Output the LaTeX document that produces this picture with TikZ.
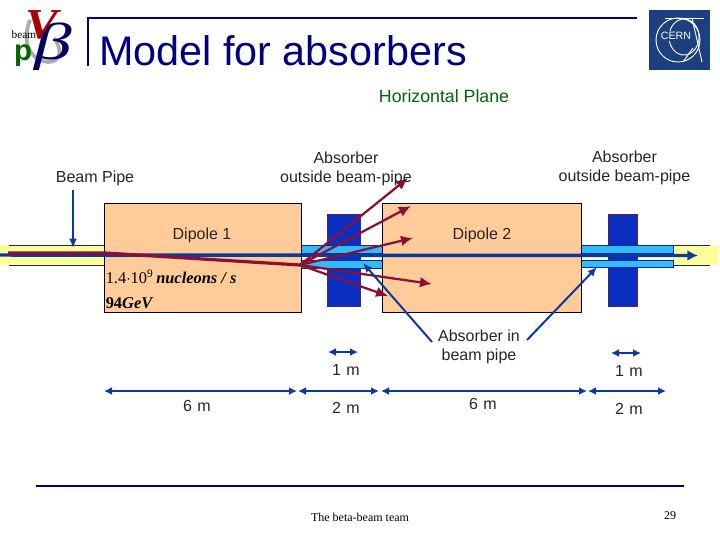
\documentclass[tikz,border=0pt]{standalone}
\usepackage{fontspec}
\setmainfont{Liberation Sans}
\newfontfamily\timesf{Liberation Serif}
\usetikzlibrary{arrows.meta}
\definecolor{navy}{HTML}{0B3A9E}
\definecolor{titlenavy}{HTML}{00007F}
\definecolor{dipole}{HTML}{FFCC99}
\definecolor{absb}{HTML}{0A2FC0}
\definecolor{pipeb}{HTML}{33BBFF}
\definecolor{beamy}{HTML}{FFFF99}
\definecolor{ray}{HTML}{8B1038}
\definecolor{greent}{HTML}{006600}
\definecolor{cernb}{HTML}{1B3F7F}
\tikzset{
  dipolebox/.style={draw=black,line width=0.75pt,fill=dipole,inner sep=0pt,anchor=north west},
  absorberbox/.style={draw=ray!70!absb,line width=0.75pt,fill=absb,inner sep=0pt,anchor=north west},
  pipebox/.style={draw=navy!80!black,line width=0.6pt,fill=pipeb,inner sep=0pt,anchor=north west},
  yellowbox/.style={fill=beamy,inner sep=0pt,anchor=north west},
  lbl/.style={font=\fontsize{12}{14.2}\selectfont,text=black!85,align=center,inner sep=0pt},
  rayline/.style={draw=ray,line width=1.7pt,-{Latex[length=9pt,width=8pt]}},
  callout/.style={draw=navy,line width=1.5pt,-{Latex[length=7pt,width=6pt]}},
  dimline/.style={draw=navy,line width=1.5pt,{Latex[length=6pt,width=6pt]}-{Latex[length=6pt,width=6pt]}},
  edgeline/.style={draw=cernb!70!black,line width=0.75pt},
}
\begin{document}
\begin{tikzpicture}[x=0.75pt,y=-0.75pt]
\useasboundingbox (0,0) rectangle (720,540);
% beta-beam logo
\draw[gray!65,line width=2.8pt] (30,20) .. controls (22,40) and (28,60) .. (48,62) .. controls (62,62) and (62,48) .. (54,38);
\node[inner sep=0pt,text=titlenavy!80!black] (logobeta) at (53,47) {\scalebox{1.45}[1]{\timesf\itshape\fontsize{39}{41}\selectfont β}};
\node[inner sep=0pt,text=red!65!black] (logov) at (42,25) {\scalebox{1.15}[1]{\timesf\itshape\bfseries\fontsize{32}{35}\selectfont V}};
\node[inner sep=0pt,text=black] (logobeam) at (24,35) {\timesf\fontsize{8.5}{10}\selectfont beam};
\node[inner sep=0pt,text=greent] (logop) at (23,56) {\fontsize{22}{24}\selectfont\bfseries p};
% title frame
\coordinate (ftop) at (88,66);
\coordinate (fcorner) at (88,18);
\coordinate (fend) at (637,18);
\draw[titlenavy,line width=1.6pt] (ftop) -- (fcorner) -- (fend);
\node[anchor=base west,inner sep=0pt,text=titlenavy] (title) at (99,65) {\fontsize{31}{36}\selectfont Model for absorbers};
% CERN logo
\node[draw=none,fill=cernb,minimum width=45.5pt,minimum height=45pt,inner sep=0pt,anchor=north west] (cern) at (649,10) {};
\begin{scope}[draw=white,line width=0.7pt]
\draw (678,40) circle (22);
\draw (684,37) ellipse (15 and 18);
\draw (665,18) -- (704,18);
\draw (692,18) -- (702,62);
\draw (683,62) -- (693,48);
\end{scope}
\node[inner sep=1pt,fill=cernb,text=white] (cerntext) at (676,36) {\fontsize{8}{9}\selectfont CERN};
% heading
\node[inner sep=0pt,text=greent] (plane) at (444,96) {\fontsize{13.3}{16}\selectfont Horizontal Plane};
% beam-line background
\node[yellowbox,minimum width=78pt,minimum height=15pt] (yl) at (0,245) {};
\node[yellowbox,minimum width=33.75pt,minimum height=15pt] (yr) at (673,245) {};
\coordinate (ylt) at (9,245); \coordinate (ylb) at (9,265);
\coordinate (ylte) at (104,245); \coordinate (ylbe) at (104,265);
\coordinate (yrt) at (710,245); \coordinate (yrb) at (710,265);
\coordinate (yrte) at (673,245); \coordinate (yrbe) at (673,265);
\draw[edgeline] (ylt) -- (ylte);
\draw[edgeline] (ylb) -- (ylbe);
\draw[edgeline] (yrte) -- (yrt);
\draw[edgeline] (yrbe) -- (yrb);
% absorbers
\node[absorberbox,minimum width=24.75pt,minimum height=69pt] (abs1) at (327,214) {};
\node[absorberbox,minimum width=21.75pt,minimum height=69pt] (abs2) at (608,214) {};
% in-pipe absorbers
\node[pipebox,minimum width=60.75pt,minimum height=6pt] (p1u) at (301,245) {};
\node[pipebox,minimum width=60.75pt,minimum height=6pt] (p1l) at (301,259.5) {};
\node[pipebox,minimum width=69pt,minimum height=6pt] (p2u) at (581,245) {};
\node[pipebox,minimum width=69pt,minimum height=5.5pt] (p2l) at (581,259.5) {};
% dipoles
\node[dipolebox,minimum width=147.75pt,minimum height=81.75pt] (d1) at (104,203) {};
\node[dipolebox,minimum width=149.25pt,minimum height=81.75pt] (d2) at (382,203) {};
\node[lbl] (d1t) at (202,235) {Dipole 1};
\node[lbl] (d2t) at (482,235) {Dipole 2};
\node[anchor=base west,inner sep=0pt] (rate) at (105.5,283) {\timesf\fontsize{12.3}{14}\selectfont 1.4$\cdot$10\textsuperscript{9}\,\itshape\bfseries nucleons / s};
\node[anchor=base west,inner sep=0pt] (energy) at (105.5,308) {\timesf\fontsize{12.3}{14}\selectfont\bfseries 94\itshape GeV};
% central beam
\coordinate (bs) at (0,255);
\coordinate (be) at (698,255.5);
\draw[navy,line width=2.6pt,-{Latex[length=8pt,width=8pt]}] (bs) -- (be);
% ion beam and rays
\coordinate (rs) at (8,253);
\coordinate (rm) at (105,253);
\coordinate (src) at (300,265);
\draw[ray,line width=2.4pt] (rs) -- (rm) -- (src);
\coordinate (r1) at (408,178);
\coordinate (r2) at (411,206);
\coordinate (r3) at (413,238);
\coordinate (r4) at (432,284);
\coordinate (r5) at (388,296);
\draw[rayline] (src) -- (r1);
\draw[rayline] (src) -- (r2);
\draw[rayline] (src) -- (r3);
\draw[rayline] (src) -- (r4);
\draw[rayline] (src) -- (r5);
% top labels
\node[lbl] (bp) at (95,178.5) {Beam Pipe};
\node[lbl] (ao1) at (346,168.5) {Absorber\\outside beam-pipe};
\node[lbl] (ao2) at (624.5,168) {Absorber\\outside beam-pipe};
\node[lbl] (ain) at (479,347) {Absorber in\\beam pipe};
% callouts
\coordinate (bp0) at (73,190);
\coordinate (bp1) at (73,248);
\draw[callout] (bp0) -- (bp1);
\coordinate (a0) at (432,342);
\coordinate (a1) at (363,263);
\draw[callout] (a0) -- (a1);
\coordinate (b0) at (527,340);
\coordinate (b1) at (597,267);
\draw[callout] (b0) -- (b1);
% dimensions
\coordinate (m1a) at (328,352); \coordinate (m1b) at (358,352);
\coordinate (m2a) at (611,353); \coordinate (m2b) at (641,353);
\coordinate (m3a) at (104,391); \coordinate (m3b) at (297,391);
\coordinate (m4a) at (298,391); \coordinate (m4b) at (379,391);
\coordinate (m5a) at (381,391); \coordinate (m5b) at (587,391);
\coordinate (m6a) at (588,391); \coordinate (m6b) at (666,391);
\draw[dimline] (m1a) -- (m1b);
\draw[dimline] (m2a) -- (m2b);
\draw[dimline] (m3a) -- (m3b);
\draw[dimline] (m4a) -- (m4b);
\draw[dimline] (m5a) -- (m5b);
\draw[dimline] (m6a) -- (m6b);
\node[lbl] (t1) at (346,369.5) {1\,\,m};
\node[lbl] (t2) at (629,370.5) {1\,\,m};
\node[lbl] (t3) at (197,406) {6\,\,m};
\node[lbl] (t4) at (346,408) {2\,\,m};
\node[lbl] (t5) at (483,404) {6\,\,m};
\node[lbl] (t6) at (629,408.5) {2\,\,m};
% footer
\coordinate (fa) at (36,486);
\coordinate (fb) at (684,486);
\draw[titlenavy,line width=2.2pt] (fa) -- (fb);
\node[inner sep=0pt] (team) at (360,517) {\timesf\fontsize{9}{11}\selectfont The beta-beam team};
\node[inner sep=0pt] (page) at (670,516) {\timesf\fontsize{9}{11}\selectfont 29};
\end{tikzpicture}
\end{document}
